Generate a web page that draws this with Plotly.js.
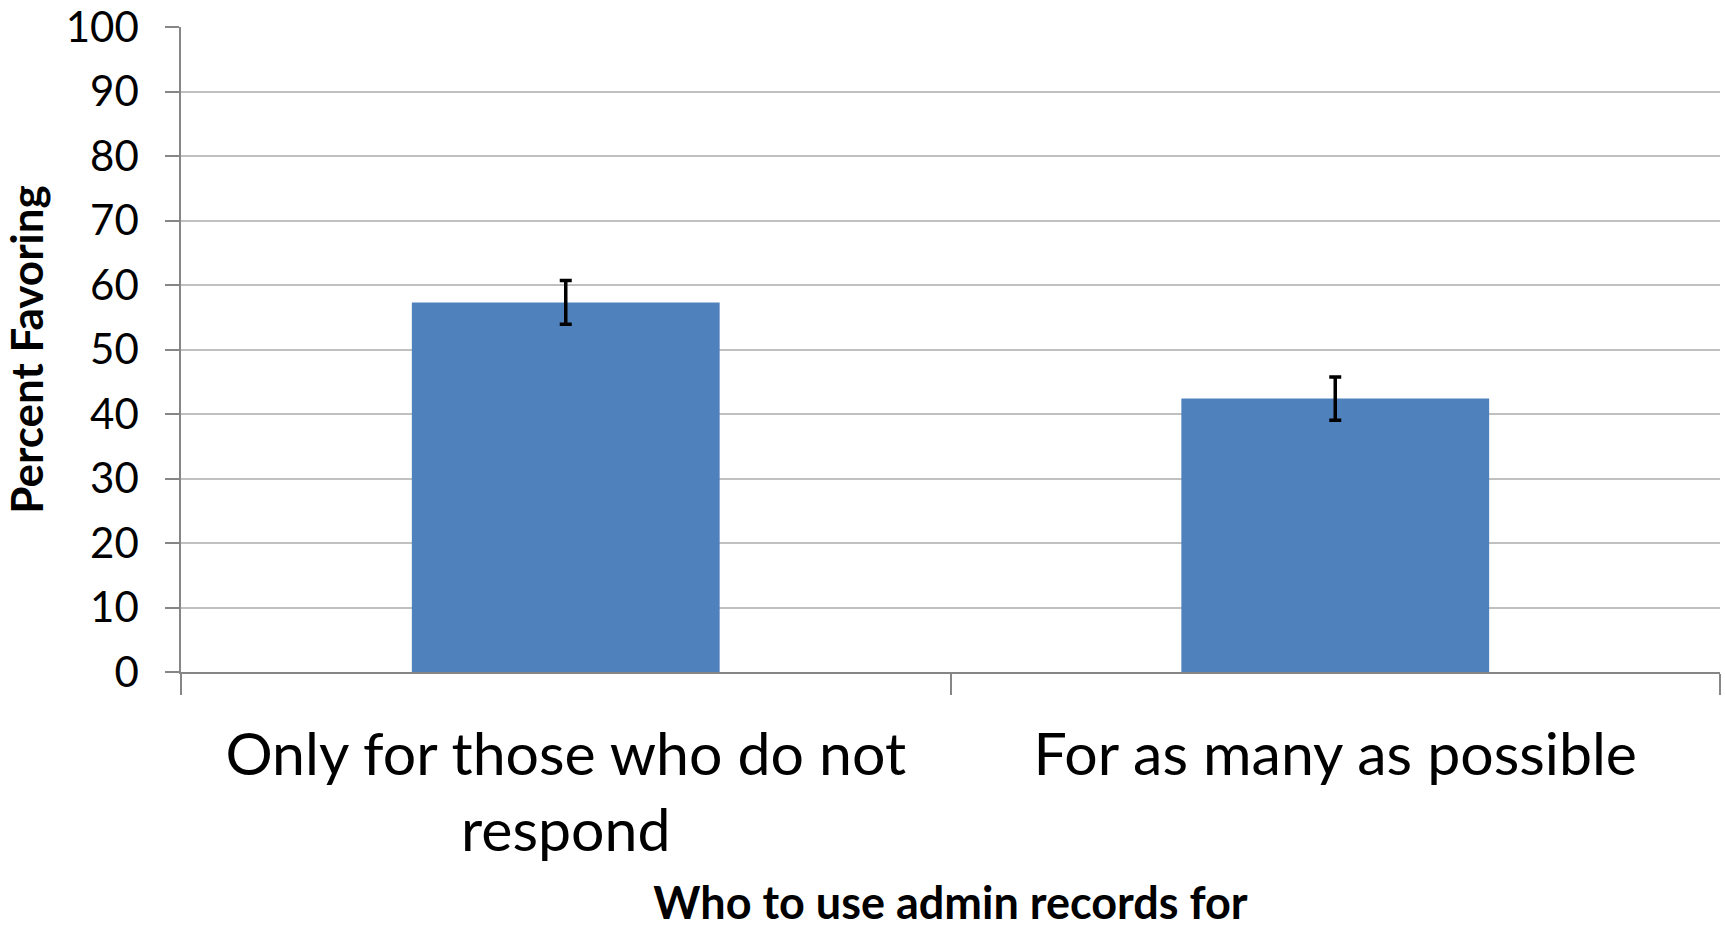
<!DOCTYPE html>
<html>
<head>
<meta charset="utf-8">
<script src="https://cdn.plot.ly/plotly-3.0.1.min.js"></script>
<style>html,body{margin:0;padding:0;background:#fff;}#chart{width:1725px;height:929px;}</style>
</head>
<body>
<div id="chart"></div>
<script>
const categories = ["Only for those who do not<br>respond", "For as many as possible"];
const percentFavoring = [57.3, 42.4];
const errorMargin = [3.4, 3.35];
const yTickValues = [0, 10, 20, 30, 40, 50, 60, 70, 80, 90, 100];

const trace = {
  type: 'bar',
  x: categories,
  y: percentFavoring,
  marker: {color: '#4F81BD'},
  error_y: {type: 'data', array: errorMargin, visible: true, color: '#000000', thickness: 3.5, width: 6},
  hoverinfo: 'x+y'
};

const layout = {
  width: 1725,
  height: 929,
  margin: {l: 181, r: 5, t: 27, b: 257},
  paper_bgcolor: '#ffffff',
  plot_bgcolor: '#ffffff',
  bargap: 0.6,
  showlegend: false,
  font: {family: 'Lato, "Open Sans", sans-serif', color: '#000000'},
  xaxis: {
    type: 'category',
    showline: true,
    linecolor: '#868686',
    linewidth: 1.5,
    ticks: 'outside',
    tickson: 'boundaries',
    ticklen: 21,
    tickcolor: '#868686',
    tickwidth: 1.5,
    tickfont: {size: 59, family: 'Lato, sans-serif', color: '#000000'},
    ticklabelstandoff: 30,
    showgrid: false,
    automargin: false,
    title: {text: 'Who to use admin records for', font: {size: 45, family: 'Lato, sans-serif', color: '#000000', weight: 'bold'}, standoff: 40}
  },
  yaxis: {
    range: [0, 100],
    tickvals: yTickValues,
    showline: true,
    linecolor: '#868686',
    linewidth: 1.5,
    ticks: 'outside',
    ticklen: 14,
    tickcolor: '#868686',
    tickwidth: 1.5,
    tickfont: {size: 42, family: 'Lato, sans-serif', color: '#000000'},
    ticklabelstandoff: 18,
    showgrid: true,
    gridcolor: '#c0c0c0',
    gridwidth: 1.5,
    zeroline: false,
    automargin: false,
    title: {text: 'Percent Favoring', font: {size: 44, family: 'Lato, sans-serif', color: '#000000', weight: 'bold'}, standoff: 8}
  }
};

Plotly.newPlot('chart', [trace], layout, {displayModeBar: false, responsive: false});
</script>
</body>
</html>
